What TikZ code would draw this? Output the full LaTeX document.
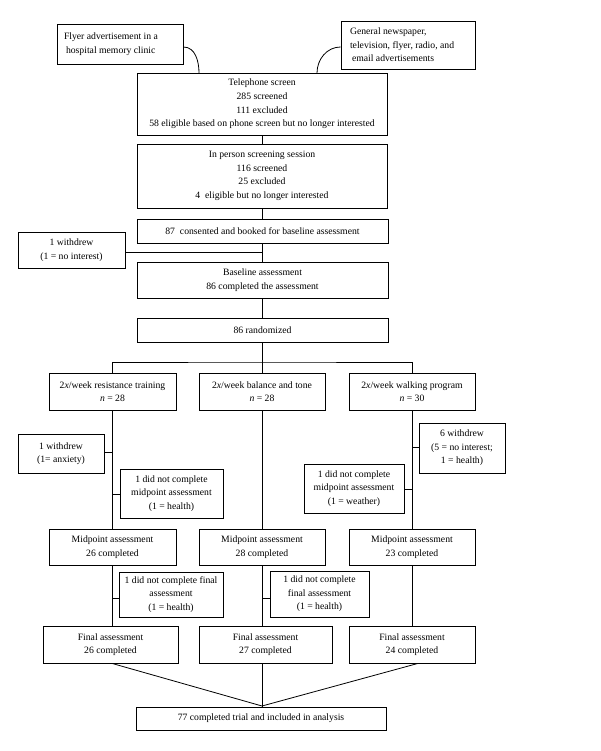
\documentclass[tikz,border=0pt]{standalone}
\usepackage{fontspec}
\setmainfont{Liberation Serif}
\begin{document}
\begin{tikzpicture}[x=1pt,y=-1pt,
  box/.style={draw, line width=0.8pt, align=center, inner sep=0pt, font=\fontsize{9.7}{13.6}\selectfont},
  sz/.style 2 args={minimum width=#1pt, minimum height=#2pt},
  ln/.style={line width=0.8pt}]
\useasboundingbox (0,0) rectangle (600,751);
% sources
\node[box, sz={126}{40}, text width=112pt, align=flush left] (flyer) at (120,44) {Flyer advertisement in a\\\hspace{2pt}hospital memory clinic};
\node[box, sz={134}{48}, text width=116pt, align=flush left] (general) at (408,45) {General newspaper,\\television, flyer, radio, and\\\hspace{2pt}email advertisements};
% trunk
\node[box, sz={250}{62}] (tel) at (262,104) {Telephone screen\\285 screened\\111 excluded\\58 eligible based on phone screen but no longer interested};
\node[box, sz={250}{64}] (inp) at (262,176) {In person screening session\\116 screened\\25 excluded\\4~ eligible but no longer interested};
\node[box, sz={251}{24}] (cons) at (262.5,231) {87~ consented and booked for baseline assessment};
\node[box, sz={107}{36}] (w1) at (71.5,250) {1 withdrew\\(1 = no interest)};
\node[box, sz={251}{36}] (base) at (262.5,280) {Baseline assessment\\86 completed the assessment};
\node[box, sz={251}{24}] (rand) at (262.5,330) {86 randomized};
% arms
\node[box, sz={127}{37}] (armA) at (112.5,391.5) {2\textit{x}/week resistance training\\\textit{n} = 28};
\node[box, sz={126}{37}] (armB) at (262,391.5) {2\textit{x}/week balance and tone\\\textit{n} = 28};
\node[box, sz={126}{37}] (armC) at (412,391.5) {2\textit{x}/week walking program\\\textit{n} = 30};
% withdrawals
\node[box, sz={86}{39}] (wA) at (61,453.5) {1 withdrew\\(1= anxiety)};
\node[box, sz={86}{50}] (wC) at (462,448) {6 withdrew\\(5 = no interest;\\1 = health)};
\node[box, sz={103}{49}] (mA) at (171.5,493.5) {1 did not complete\\midpoint assessment\\(1 = health)};
\node[box, sz={100}{49}] (mC) at (354,488.5) {1 did not complete\\midpoint assessment\\(1 = weather)};
% midpoint
\node[box, sz={127}{36}] (midA) at (112.5,547) {Midpoint assessment\\26 completed};
\node[box, sz={126}{36}] (midB) at (262,547) {Midpoint assessment\\28 completed};
\node[box, sz={126}{36}] (midC) at (412,547) {Midpoint assessment\\23 completed};
\node[box, sz={104}{45}] (fA) at (171,594.5) {1 did not complete final\\assessment\\(1 = health)};
\node[box, sz={99}{46}] (fB) at (319.5,594) {1 did not complete\\final assessment\\(1 = health)};
% final
\node[box, sz={135}{37}] (finA) at (110.5,644.5) {Final assessment\\26 completed};
\node[box, sz={133}{37}] (finB) at (265.5,644.5) {Final assessment\\27 completed};
\node[box, sz={126}{37}] (finC) at (412,644.5) {Final assessment\\24 completed};
\node[box, sz={250}{23}] (tot) at (261,718.5) {77 completed trial and included in analysis};
% connectors
\draw[ln] (flyer.east |- 0,47) to[out=0,in=90] (199,73);
\draw[ln] (general.west |- 0,47) to[out=180,in=90] (317,73);
\draw[ln] (tel.south -| 262,0) -- (inp.north -| 262,0);
\draw[ln] (inp.south -| 262,0) -- (cons.north -| 262,0);
\draw[ln] (cons.south -| 262,0) -- (base.north -| 262,0);
\draw[ln] (w1.east |- 0,252) -- (262,252);
\draw[ln] (base.south -| 262,0) -- (rand.north -| 262,0);
\coordinate (split) at (262,362);
\draw[ln] (rand.south -| 262,0) -- (split);
\draw[ln] (armA.north -| 112,0) |- (split) -| (armC.north);
\draw[ln] (split) -- (armB.north);
\draw[ln] (armA.south -| 112,0) -- (midA.north -| 112,0);
\draw[ln] (midA.south -| 112,0) -- (finA.north -| 112,0);
\draw[ln] (armB.south) -- (midB.north);
\draw[ln] (midB.south) -- (finB.north -| 262,0);
\draw[ln] (armC.south) -- (midC.north);
\draw[ln] (midC.south) -- (finC.north);
\draw[ln] (wA.east |- 0,452) -- (112,452);
\draw[ln] (mA.west |- 0,494) -- (112,494);
\draw[ln] (fA.west |- 0,598) -- (112,598);
\draw[ln] (fB.west |- 0,598) -- (262,598);
\draw[ln] (wC.west |- 0,447) -- (412,447);
\draw[ln] (mC.east |- 0,489) -- (412,489);
\coordinate (join) at (262,706);
\draw[ln] (finA.south -| 112,0) -- (join);
\draw[ln] (finB.south -| 262,0) -- (tot.north -| 262,0);
\draw[ln] (finC.south -| 418,0) -- (join);
\end{tikzpicture}
\end{document}
